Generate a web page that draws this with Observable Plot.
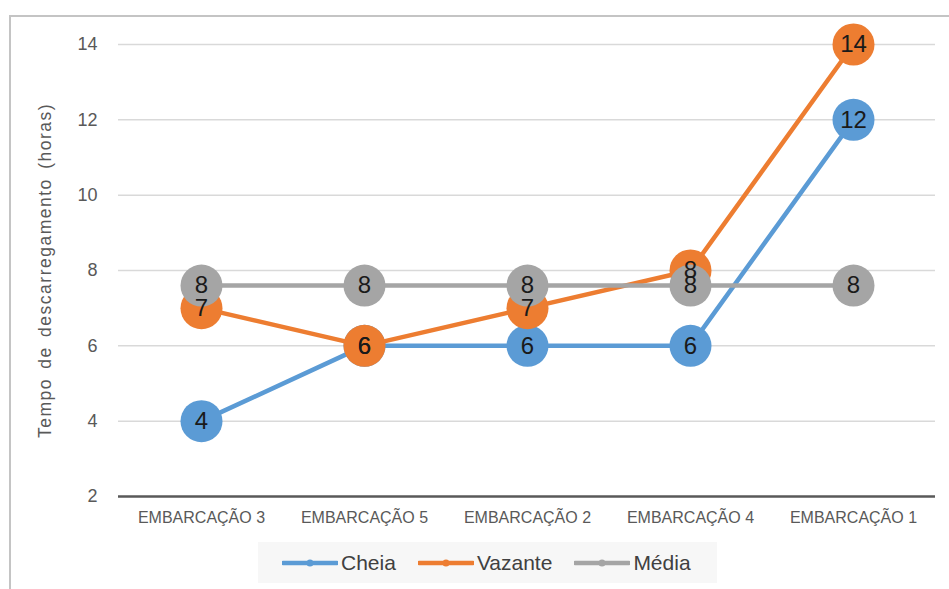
<!DOCTYPE html>
<html lang="pt">
<head>
<meta charset="utf-8">
<script src="https://cdn.jsdelivr.net/npm/d3@7"></script>
<script src="https://cdn.jsdelivr.net/npm/@observablehq/plot@0.6"></script>
<style>
  html, body { margin: 0; padding: 0; background: #fff; }
  body { width: 949px; height: 589px; position: relative; overflow: hidden; font-family: "Liberation Sans", Arial, sans-serif; }
  #moldura { position: absolute; left: 9px; top: 15px; width: 960px; height: 600px;
             border-left: 2px solid #c4c4c4; border-top: 2px solid #c4c4c4; box-sizing: border-box; }
  #grafico { position: absolute; left: 0; top: 0; }
  #grafico svg [aria-label="y-axis label"] text { letter-spacing: 1.5px; word-spacing: 3px; }
  #legenda { position: absolute; left: 258px; top: 542px; width: 459px; height: 41px; background: #f7f7f7;
             display: flex; align-items: center; justify-content: flex-start; padding-left: 24px; box-sizing: border-box; gap: 22px; }
  #legenda .item { display: flex; align-items: center; font-size: 21px; color: #404040; }
  #legenda svg { margin-right: 3px; }
</style>
</head>
<body>
<div id="moldura"></div>
<div id="grafico"></div>
<div id="legenda"></div>
<script>
// Tempo de descarregamento por embarcação, nos períodos de cheia e vazante
const categorias = ["EMBARCAÇÃO 3", "EMBARCAÇÃO 5", "EMBARCAÇÃO 2", "EMBARCAÇÃO 4", "EMBARCAÇÃO 1"];
const cheia = [4, 6, 6, 6, 12];
const vazante = [7, 6, 7, 8, 14];
const media = [7.6, 7.6, 7.6, 7.6, 7.6];
const nomesSeries = ["Cheia", "Vazante", "Média"];
const cores = ["#5B9BD5", "#ED7D31", "#A5A5A5"];
const ticksY = [2, 4, 6, 8, 10, 12, 14];
const rotuloY = "Tempo de descarregamento (horas)";

const valoresSeries = [cheia, vazante, media];
const dados = nomesSeries.flatMap((s, i) =>
  categorias.map((c, j) => ({serie: s, embarcacao: c, horas: valoresSeries[i][j]}))
);
const fmt = d3.format(".0f");

// Linha e marcadores de cada série, na ordem de desenho
const marcasSeries = nomesSeries.flatMap((s, i) => {
  const d = dados.filter(r => r.serie === s);
  return [
    Plot.line(d, {x: "embarcacao", y: "horas", stroke: cores[i], strokeWidth: 4.5}),
    Plot.dot(d, {x: "embarcacao", y: "horas", r: 21, fill: cores[i], stroke: "none"})
  ];
});

const grafico = Plot.plot({
  width: 949,
  height: 530,
  marginLeft: 118,
  marginRight: 14,
  marginTop: 44,
  marginBottom: 34,
  style: {fontFamily: "'Liberation Sans', Arial, sans-serif", background: "transparent", color: "#595959"},
  x: {type: "point", domain: categorias, padding: 0.5},
  y: {domain: [2, 14]},
  marks: [
    Plot.ruleY(ticksY.filter(t => t > 2), {stroke: "#d9d9d9", strokeWidth: 1.5}),
    Plot.ruleY([2], {stroke: "#595959", strokeWidth: 2.5}),
    Plot.axisY({ticks: ticksY, tickSize: 0, tickPadding: 21, fontSize: 18, tickFormat: d3.format("d"),
                label: rotuloY, labelAnchor: "center", labelArrow: "none", labelOffset: 80}),
    Plot.axisX({tickSize: 0, tickPadding: 15, fontSize: 16, label: null}),
    ...marcasSeries,
    Plot.text(dados, {x: "embarcacao", y: "horas", text: d => fmt(d.horas), fontSize: 24, fill: "#1a1a1a"})
  ]
});
grafico.querySelectorAll('[aria-label="y-axis label"] text').forEach(t => t.setAttribute("font-size", 17.5));
document.getElementById("grafico").append(grafico);

// Legenda com amostras de linha e marcador
const legenda = d3.select("#legenda");
nomesSeries.forEach((s, i) => {
  const item = legenda.append("div").attr("class", "item");
  const sv = item.append("svg").attr("width", 56).attr("height", 12);
  sv.append("line").attr("x1", 1).attr("x2", 55).attr("y1", 6).attr("y2", 6)
    .attr("stroke", cores[i]).attr("stroke-width", 4.5).attr("stroke-linecap", "round");
  sv.append("circle").attr("cx", 28).attr("cy", 6).attr("r", 3.5).attr("fill", cores[i]);
  item.append("span").text(s);
});
</script>
</body>
</html>
